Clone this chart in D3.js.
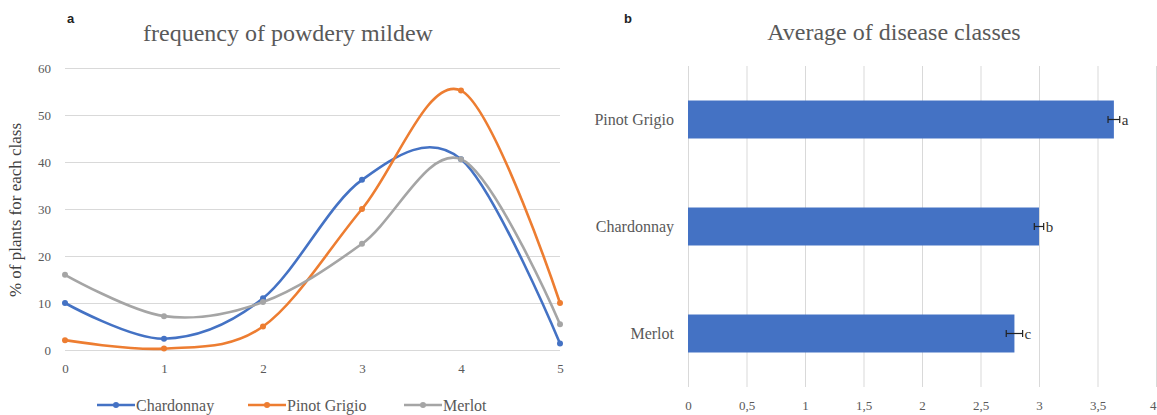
<!DOCTYPE html>
<html><head><meta charset="utf-8">
<script src="https://cdn.jsdelivr.net/npm/d3@7"></script>
<style>
html,body{margin:0;padding:0;background:#fff;}
svg{display:block;}
</style></head>
<body>
<svg id="c" width="1157" height="415"></svg>
<script>
// ---------- data ----------
const classes = [0, 1, 2, 3, 4, 5];
const chardonnay = [10, 2.4, 11, 36.2, 40.6, 1.4];
const pinotGrigio = [2.1, 0.3, 5, 30, 55.2, 10];
const merlot = [16, 7.2, 10.2, 22.6, 40.6, 5.5];
const lineSeriesNames = ["Chardonnay", "Pinot Grigio", "Merlot"];
const yTicksA = [0, 10, 20, 30, 40, 50, 60];

const barCategories = ["Pinot Grigio", "Chardonnay", "Merlot"];
const barValues = [3.64, 3.0, 2.79];
const barErrors = [0.05, 0.04, 0.07];
const barLetters = ["a", "b", "c"];
const xTicksB = [0, 0.5, 1, 1.5, 2, 2.5, 3, 3.5, 4];

// ---------- styles ----------
const SERIF = "'Liberation Serif', 'Times New Roman', Times, serif";
const colors = ["#4472C4", "#ED7D31", "#A5A5A5"];
const gridColor = "#D9D9D9";
const textColor = "#595959";

const svg = d3.select("#c");

// ================= Panel a =================
const xA = d3.scaleLinear().domain([0, 5]).range([65, 560]);
const yA = d3.scaleLinear().domain([0, 60]).range([350, 68]);

const gy = svg.append("g").attr("transform", `translate(${xA(0)},0)`)
  .call(d3.axisLeft(yA).tickValues(yTicksA).tickSize(-(xA(5) - xA(0))).tickPadding(14));
gy.select(".domain").remove();
gy.selectAll(".tick line").attr("stroke", gridColor).attr("stroke-width", 1);
gy.selectAll(".tick text").attr("fill", textColor).attr("font-size", 13);

const gx = svg.append("g").attr("transform", `translate(0,${yA(0)})`)
  .call(d3.axisBottom(xA).tickValues(classes).tickSize(0).tickPadding(14).tickFormat(d3.format("d")));
gx.select(".domain").remove();
gx.selectAll(".tick text").attr("fill", textColor).attr("font-size", 13);

const seriesA = [chardonnay, pinotGrigio, merlot];
const line = d3.line().x((d, i) => xA(classes[i])).y(d => yA(d)).curve(d3.curveCardinal.tension(0));
seriesA.forEach((s, k) => {
  svg.append("path").datum(s).attr("d", line).attr("fill", "none")
    .attr("stroke", colors[k]).attr("stroke-width", 2.6).attr("stroke-linejoin", "round");
});
seriesA.forEach((s, k) => {
  svg.append("g").selectAll("circle").data(s).join("circle")
    .attr("cx", (d, i) => xA(classes[i])).attr("cy", d => yA(d)).attr("r", 3)
    .attr("fill", colors[k]);
});

svg.append("text").attr("x", 288).attr("y", 41).attr("text-anchor", "middle")
  .attr("font-size", 24).attr("fill", textColor).text("frequency of powdery mildew");
svg.append("text").attr("transform", `translate(21,210) rotate(-90)`).attr("text-anchor", "middle")
  .attr("font-size", 17).attr("fill", "#404040").text("% of plants for each class");

const legendX = [97, 248, 404];
lineSeriesNames.forEach((n, k) => {
  const g = svg.append("g").attr("transform", `translate(${legendX[k]},405)`);
  g.append("line").attr("x1", 0).attr("x2", 38).attr("y1", 0).attr("y2", 0)
    .attr("stroke", colors[k]).attr("stroke-width", 2.6);
  g.append("circle").attr("cx", 19).attr("cy", 0).attr("r", 3).attr("fill", colors[k]);
  g.append("text").attr("x", 39).attr("y", 0).attr("dy", "0.35em").attr("font-size", 16)
    .attr("fill", textColor).text(n);
});

// ================= Panel b =================
const xB = d3.scaleLinear().domain([0, 4]).range([688, 1156]);
const yB = d3.scaleBand().domain(barCategories).range([66, 387]).paddingInner(0.645).paddingOuter(0.3225);

const gxB = svg.append("g").attr("transform", `translate(0,387)`)
  .call(d3.axisBottom(xB).tickValues(xTicksB).tickSize(-(387 - 66)).tickPadding(14)
    .tickFormat(d => String(d).replace(".", ",")));
gxB.select(".domain").remove();
gxB.selectAll(".tick line").attr("stroke", gridColor).attr("stroke-width", 1);
gxB.selectAll(".tick text").attr("fill", textColor).attr("font-size", 13);
gxB.selectAll(".tick text").filter(d => d === 4).attr("text-anchor", "end");

const gyB = svg.append("g").attr("transform", `translate(${xB(0)},0)`)
  .call(d3.axisLeft(yB).tickSize(0).tickPadding(14));
gyB.select(".domain").remove();
gyB.selectAll(".tick text").attr("fill", textColor).attr("font-size", 16);

svg.append("g").selectAll("rect").data(barValues).join("rect")
  .attr("x", xB(0)).attr("y", (d, i) => yB(barCategories[i]))
  .attr("width", d => xB(d) - xB(0)).attr("height", yB.bandwidth())
  .attr("fill", "#4472C4");

const eb = svg.append("g").attr("stroke", "#222").attr("stroke-width", 1.2);
barValues.forEach((v, i) => {
  const cy = yB(barCategories[i]) + yB.bandwidth() / 2;
  const x1 = xB(v - barErrors[i]), x2 = xB(v + barErrors[i]);
  eb.append("line").attr("x1", x1).attr("x2", x2).attr("y1", cy).attr("y2", cy);
  eb.append("line").attr("x1", x1).attr("x2", x1).attr("y1", cy - 3.5).attr("y2", cy + 3.5);
  eb.append("line").attr("x1", x2).attr("x2", x2).attr("y1", cy - 3.5).attr("y2", cy + 3.5);
  svg.append("text").attr("x", x2 + 2).attr("y", cy).attr("dy", "0.35em")
    .attr("font-size", 15).attr("fill", "#333").text(barLetters[i]);
});

svg.append("text").attr("x", 894).attr("y", 40).attr("text-anchor", "middle")
  .attr("font-size", 24).attr("fill", textColor).text("Average of disease classes");

// apply serif font to all texts
svg.selectAll("text").style("font-family", SERIF);
svg.selectAll("g").attr("font-family", null);

// panel letters
svg.append("text").attr("x", 67).attr("y", 23).attr("font-size", 13).attr("font-weight", "bold")
  .style("font-family", "'Liberation Sans', Arial, sans-serif").attr("fill", "#222").text("a");
svg.append("text").attr("x", 624).attr("y", 23).attr("font-size", 13).attr("font-weight", "bold")
  .style("font-family", "'Liberation Sans', Arial, sans-serif").attr("fill", "#222").text("b");
</script>
</body></html>
